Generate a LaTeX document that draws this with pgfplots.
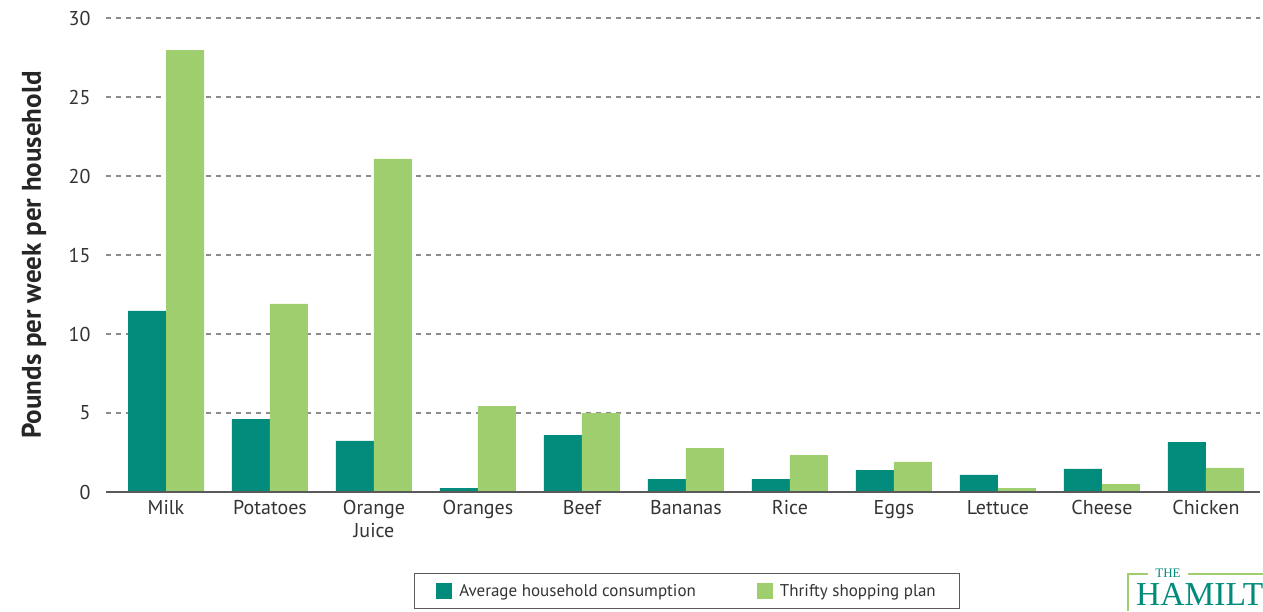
\documentclass[border=0pt]{standalone}
\usepackage{pgfplots}
\pgfplotsset{compat=1.18}
\usepackage{fontspec}
\setmainfont{PT Sans}
\newfontfamily\logofont{Liberation Serif}
\definecolor{teal1}{RGB}{0,139,122}
\definecolor{lgreen}{RGB}{158,206,110}
\definecolor{gridgray}{RGB}{140,140,140}
\definecolor{axgray}{RGB}{90,90,90}
\pgfplotstableread{
x avg thrifty
0 11.46 27.97
1 4.62 11.90
2 3.23 21.08
3 0.25 5.44
4 3.60 5.00
5 0.82 2.78
6 0.82 2.34
7 1.39 1.90
8 1.08 0.25
9 1.46 0.50
10 3.16 1.52
}\datatable
\begin{document}
\begin{tikzpicture}
\useasboundingbox (0,0) rectangle (1263pt,611pt);
\clip (0,0) rectangle (1263pt,611pt);
\begin{axis}[
  at={(106pt,119pt)}, anchor=south west,
  scale only axis, width=1154pt, height=474pt,
  ymin=0, ymax=30, xmin=-0.577, xmax=10.52,
  ybar=0pt, bar width=38pt,
  axis line style={draw=none},
  ytick={0,5,...,30},
  ymajorgrids, major grid style={gridgray, line width=1.2pt, dash pattern=on 5pt off 5pt},
  xtick=data,
  xticklabels={Milk,Potatoes,{Orange\\Juice},Oranges,Beef,Bananas,Rice,Eggs,Lettuce,Cheese,Chicken},
  major tick length=0pt, tick style={draw=none},
  /pgf/number format/assume math mode=true,
  ticklabel style={font=\fontsize{20}{23}\selectfont, text=black!80},
  xticklabel style={align=center, yshift=-5pt},
  yticklabel style={xshift=-12pt},
  ylabel={Pounds per week per household},
  ylabel style={at={(axis description cs:-0.0625,0.5)}, anchor=center, font=\fontsize{27}{29}\selectfont\bfseries, text=black!85},
  legend columns=2,
  legend style={at={(axis description cs:0.5035,-0.2089)}, anchor=center, draw=axgray, line width=1.3pt,
    font=\fontsize{17}{20}\selectfont, text=black!80, inner xsep=22pt, inner ysep=9pt,
    /tikz/every odd column/.append style={column sep=5pt},
    /tikz/every even column/.append style={column sep=59pt}},
  legend image code/.code={\fill[#1, draw=none] (0pt,-8pt) rectangle (16pt,8pt);},
]
\addplot[fill=teal1, draw=none] table[x=x, y=avg] {\datatable};
\addlegendentry{Average household consumption}
\addplot[fill=lgreen, draw=none] table[x=x, y=thrifty] {\datatable};
\addlegendentry{Thrifty shopping plan}
\draw[axgray, line width=1.8pt] (rel axis cs:0,0) -- (rel axis cs:1,0);
\end{axis}
% logo
\draw[lgreen, line width=1.2pt] (1128pt,0pt) -- (1128pt,37pt) -- (1148pt,37pt);
\draw[lgreen, line width=1.2pt] (1188pt,37pt) -- (1263pt,37pt);
\node[anchor=base, text=teal1, inner sep=0pt, font=\logofont\fontsize{13}{13}\selectfont] at (1168pt,34pt) {THE};
\node[anchor=base west, text=teal1, inner sep=0pt, font=\logofont\fontsize{33.5}{34}\selectfont] at (1136pt,6pt) {HAMILT};
\end{tikzpicture}
\end{document}
